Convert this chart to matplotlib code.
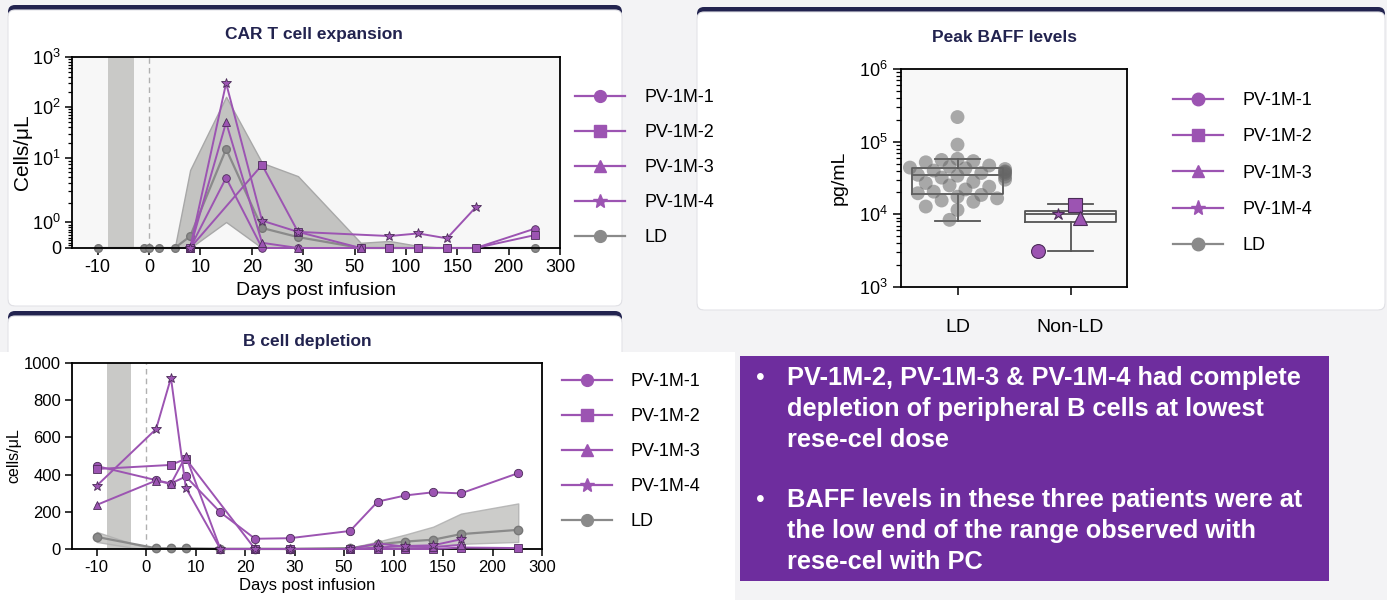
import numpy as np
import matplotlib.pyplot as plt
from matplotlib.patches import FancyBboxPatch, Rectangle
from matplotlib.lines import Line2D
from matplotlib.ticker import FixedLocator, NullFormatter

W, H = 1387, 600

plt.rcParams["font.family"] = ["Liberation Sans", "DejaVu Sans"]
plt.rcParams["mathtext.fontset"] = "custom"
plt.rcParams["mathtext.rm"] = "Liberation Sans"
plt.rcParams["mathtext.it"] = "Liberation Sans:italic"
plt.rcParams["axes.unicode_minus"] = False
plt.rcParams["xtick.direction"] = "out"
plt.rcParams["ytick.direction"] = "out"

NAVY = "#22234f"
PURPLE = "#9c54b2"
PEDGE = "#4b2c58"
GRAY = "#8a8a8a"
BOXPURPLE = "#6e2d9e"

# ---------------- data ----------------
patients = ["PV-1M-1", "PV-1M-2", "PV-1M-3", "PV-1M-4"]
x_tick_days = [-10, 0, 10, 20, 30, 50, 100, 150, 200, 300]

# CAR T cell expansion (cells/uL)
cart_days = {
    "PV-1M-1": [8, 15, 22, 29, 56, 84, 112, 140, 168, 252],
    "PV-1M-2": [8, 22, 29, 56, 84, 112, 140, 168, 252],
    "PV-1M-3": [8, 15, 22, 29, 56],
    "PV-1M-4": [8, 15, 22, 29, 84, 112, 140, 168],
}
cart_vals = {
    "PV-1M-1": [0, 4.9, 0, 0, 0, 0, 0, 0, 0, 0.75],
    "PV-1M-2": [0, 7.8, 0.62, 0, 0, 0, 0, 0, 0.5],
    "PV-1M-3": [0, 50, 0.2, 0, 0],
    "PV-1M-4": [0, 300, 1.05, 0.62, 0.46, 0.56, 0.37, 1.7],
}
cart_ld_days = [-10, -1, 0, 2, 5, 8, 15, 22, 29, 56, 84, 112, 140, 168, 252]
cart_ld_mean = [0, 0, 0, 0, 0, 0.45, 15, 0.77, 0.42, 0, 0, 0, 0, 0, 0]
cart_band_days = [5, 8, 15, 22, 29, 56, 84, 112, 140, 168, 252]
cart_band_hi = [0, 6.5, 160, 8.4, 5.2, 0.2, 0.27, 0.08, 0, 0, 0]
cart_band_lo = [0, 0, 1.0, 0, 0, 0, 0, 0, 0, 0, 0]

# B cell depletion (cells/uL)
bcell_days = {
    "PV-1M-1": [-10, 2, 5, 8, 15, 22, 29, 56, 84, 112, 140, 168, 252],
    "PV-1M-2": [-10, 5, 8, 22, 29, 56, 84, 112, 140, 168, 252],
    "PV-1M-3": [-10, 2, 5, 8, 15, 22, 29, 56, 84, 112, 140, 168],
    "PV-1M-4": [-10, 2, 5, 8, 15, 22, 29, 56, 84, 112, 140, 168],
}
bcell_vals = {
    "PV-1M-1": [446, 370, 352, 390, 197, 55, 58, 97, 255, 288, 305, 299, 408],
    "PV-1M-2": [430, 452, 485, 0, 0, 0, 0, 0, 0, 8, 5],
    "PV-1M-3": [237, 368, 350, 500, 0, 0, 0, 0, 30, 12, 10, 22],
    "PV-1M-4": [340, 645, 920, 330, 0, 0, 0, 0, 8, 16, 20, 52],
}
bcell_ld_days = [-10, 2, 5, 8, 15, 22, 29, 56, 84, 112, 140, 168, 252]
bcell_ld_mean = [65, 4, 3, 3, 0, 0, 0, 5, 25, 40, 50, 80, 103]
bcell_band_days = [-10, -3, 0, 56, 84, 112, 140, 168, 252]
bcell_band_hi = [92, 30, 8, 6, 40, 78, 120, 190, 245]
bcell_band_lo = [38, 8, 0, 0, 3, 10, 15, 28, 38]

# Peak BAFF (pg/mL)
baff_ld = [218000, 91000, 58000, 56000, 54000, 52000, 47000, 45000, 44000,
           43000, 42000, 40000, 39000, 38000, 37000, 36000, 35000, 34000,
           33000, 32000, 30000, 28000, 27000, 25000, 24000, 22000, 20500,
           19500, 18500, 17500, 16600, 15500, 14900, 12800, 11500, 8400]
baff_pv = [3100, 13500, 9000, 10200]
baff_ld_box = dict(q1=19000, med=34500, q3=44000, whislo=8100, whishi=57000)
baff_nonld_box = dict(q1=7900, med=10000, q3=11200, whislo=3100, whishi=13800)

bullets = [
    "PV-1M-2, PV-1M-3 & PV-1M-4 had complete\ndepletion of peripheral B cells at lowest\nrese-cel dose",
    "BAFF levels in these three patients were at\nthe low end of the range observed with\nrese-cel with PC",
]

markers = {"PV-1M-1": "o", "PV-1M-2": "s", "PV-1M-3": "^", "PV-1M-4": "*"}


# ---------------- helpers ----------------
def frac(x0, y0, x1, y1):
    return [x0 / W, 1 - y1 / H, (x1 - x0) / W, (y1 - y0) / H]


knot_days = [-20, -10, 0, 10, 20, 30, 50, 100, 150, 200, 300]
knot_pos = list(range(-1, 10))


def xfwd(x):
    return np.interp(x, knot_days, knot_pos)


def xinv(p):
    return np.interp(p, knot_pos, knot_days)


ylog_u = [0, 1, 2, 3, 4]
ylog_p = [0, 26, 90, 141, 191]


def yfwd(y):
    y = np.asarray(y, dtype=float)
    u = np.where(y <= 1, y, 1 + np.log10(np.maximum(y, 1)))
    return np.interp(u, ylog_u, ylog_p)


def yinv(p):
    u = np.interp(p, ylog_p, ylog_u)
    return np.where(u <= 1, u, 10 ** (u - 1))


def card(x0, y0, x1, y1):
    l, b, w, h = frac(x0, y0, x1, y1)
    fig.patches.append(FancyBboxPatch((l, b), w, h, boxstyle="round,pad=0,rounding_size=0.005",
                                      mutation_aspect=W / H, transform=fig.transFigure,
                                      facecolor=NAVY, edgecolor="none", zorder=-3))
    l, b, w, h = frac(x0, y0 + 5, x1, y1)
    fig.patches.append(FancyBboxPatch((l, b), w, h, boxstyle="round,pad=0,rounding_size=0.005",
                                      mutation_aspect=W / H, transform=fig.transFigure,
                                      facecolor="white", edgecolor="#e4e4e8", lw=0.8, zorder=-2))


def time_axis(ax, fs):
    ax.set_xscale("function", functions=(xfwd, xinv))
    ax.set_xlim(-15, 300)
    ax.set_xticks(x_tick_days)
    ax.set_xticklabels([str(d) for d in x_tick_days], fontsize=fs)
    ax.xaxis.set_minor_locator(FixedLocator([]))
    ax.axvspan(-8, -3, color="#c9c9c7", lw=0, zorder=0.5)
    ax.axvline(0, color="#b0b0b0", lw=1, ls=(0, (4, 3)), zorder=0.6)
    for s in ax.spines.values():
        s.set_linewidth(1.3)
    ax.tick_params(length=5, width=1.1, pad=3)


def legend_handles(ms):
    hs = [Line2D([], [], color=PURPLE, lw=1.6, marker=markers[p],
                 markersize=ms + (2 if markers[p] == "*" else 0), markerfacecolor=PURPLE,
                 markeredgecolor=PURPLE) for p in patients]
    hs.append(Line2D([], [], color=GRAY, lw=1.6, marker="o", markersize=ms,
                     markerfacecolor=GRAY, markeredgecolor=GRAY))
    return hs, patients + ["LD"]


fig = plt.figure(figsize=(W / 100, H / 100), dpi=100, facecolor="#f3f3f5")

card(8, 5, 622, 306)
card(697, 7, 1385, 310)
card(8, 311, 622, 640)
fig.patches.append(Rectangle((0, 0), 735 / W, 1 - 352 / H, transform=fig.transFigure,
                             facecolor="white", edgecolor="none", zorder=-1))

# ---------------- CAR T expansion ----------------
ax1 = fig.add_axes(frac(72, 57, 560, 248))
ax1.set_facecolor("#f7f7f7")
time_axis(ax1, 13)
ax1.set_yscale("function", functions=(yfwd, yinv))
ax1.set_ylim(0, 1000)
ax1.set_yticks([0, 1, 10, 100, 1000])
ax1.set_yticklabels(["0", "$10^0$", "$10^1$", "$10^2$", "$10^3$"], fontsize=13)
minor = [k / 10 for k in range(1, 10)] + [k * 10 ** d for d in range(3) for k in range(2, 10)]
ax1.yaxis.set_minor_locator(FixedLocator(minor))
ax1.yaxis.set_minor_formatter(NullFormatter())
ax1.tick_params(axis="y", which="minor", length=3, width=0.9)

ax1.fill_between(cart_band_days, cart_band_lo, cart_band_hi, color="#c3c3c1",
                 edgecolor="#a8a8a8", lw=1, zorder=1)
ax1.plot(cart_ld_days, cart_ld_mean, color=GRAY, lw=1.6, marker="o", markersize=5.5,
         markerfacecolor=GRAY, markeredgecolor="#777777", zorder=2, clip_on=False)
for p in patients:
    m = markers[p]
    ax1.plot(cart_days[p], cart_vals[p], color=PURPLE, lw=1.4, marker=m,
             markersize=7 if m == "*" else 5.5, markerfacecolor=PURPLE,
             markeredgecolor=PEDGE, markeredgewidth=0.6, zorder=3, clip_on=False)
ax1.set_ylabel("Cells/μL", fontsize=15, labelpad=0)
ax1.set_xlabel("Days post infusion", fontsize=14, labelpad=4)
fig.text(314 / W, 1 - 35 / H, "CAR T cell expansion", fontsize=12.5, fontweight="bold",
         color=NAVY, ha="center", va="center")

hs, labs = legend_handles(8.5)
fig.legend(hs, labs, loc="upper left", bbox_to_anchor=(575 / W, 1 - 89 / H), frameon=False,
           fontsize=13, handlelength=2.75, handletextpad=1.1, labelspacing=1.0,
           borderpad=0, borderaxespad=0)

# ---------------- B cell depletion ----------------
ax2 = fig.add_axes(frac(72, 363, 542, 549))
ax2.set_facecolor("white")
time_axis(ax2, 12)
ax2.set_ylim(0, 1000)
ax2.set_yticks(range(0, 1001, 200))
ax2.tick_params(axis="y", labelsize=12)
ax2.fill_between(bcell_band_days, bcell_band_lo, bcell_band_hi, color="#c3c3c1",
                 edgecolor="#b0b0b0", lw=1, alpha=0.85, zorder=1)
ax2.plot(bcell_ld_days, bcell_ld_mean, color=GRAY, lw=1.6, marker="o", markersize=6,
         markerfacecolor=GRAY, markeredgecolor="#777777", zorder=2, clip_on=False)
for p in patients:
    m = markers[p]
    ax2.plot(bcell_days[p], bcell_vals[p], color=PURPLE, lw=1.4, marker=m,
             markersize=7 if m == "*" else 6, markerfacecolor=PURPLE,
             markeredgecolor=PEDGE, markeredgewidth=0.6, zorder=3, clip_on=False)
ax2.set_ylabel("cells/μL", fontsize=11.5, labelpad=2)
ax2.set_xlabel("Days post infusion", fontsize=12, labelpad=2)
fig.text(307 / W, 1 - 342 / H, "B cell depletion", fontsize=12.5, fontweight="bold",
         color=NAVY, ha="center", va="center")

hs, labs = legend_handles(8.5)
fig.legend(hs, labs, loc="upper left", bbox_to_anchor=(562 / W, 1 - 373 / H), frameon=False,
           fontsize=13, handlelength=2.75, handletextpad=1.05, labelspacing=1.0,
           borderpad=0, borderaxespad=0)

# ---------------- Peak BAFF ----------------
ax3 = fig.add_axes(frac(901, 69, 1127, 287))
ax3.set_facecolor("#f8f8f8")
ax3.set_yscale("log")
ax3.set_ylim(1e3, 1e6)
ax3.set_xlim(-0.5, 1.5)
ax3.bxp([baff_ld_box, baff_nonld_box], positions=[0, 1], widths=[0.8, 0.8], showfliers=False,
        boxprops=dict(color="#555555", lw=1.3), medianprops=dict(color="#555555", lw=1.3),
        whiskerprops=dict(color="#555555", lw=1.3), capprops=dict(color="#555555", lw=1.3),
        capwidths=[0.4, 0.4], zorder=2)

# simple deterministic swarm for LD points (pixel space)
px_per_unit, px_per_dec = 114.0, 72.6
placed = []
xs = []
steps = [0] + [s * k for k in range(1, 7) for s in (-1, 1)]
for v in baff_ld:
    yp = np.log10(v) * px_per_dec
    for st in steps:
        xp = st * 8.0
        if all((xp - a) ** 2 + (yp - b) ** 2 >= 10.5 ** 2 for a, b in placed):
            break
    placed.append((xp, yp))
    xs.append(xp / px_per_unit)
ax3.scatter(xs, baff_ld, s=100, color="#666666", alpha=0.55, edgecolor="none", zorder=3)

pv_offsets = [-0.29, 0.04, 0.08, -0.11]
for p, v, dx in zip(patients, baff_pv, pv_offsets):
    m = markers[p]
    ax3.plot(1 + dx, v, marker=m, markersize=9 if m == "*" else 10, color=PURPLE,
             markeredgecolor=PEDGE, markeredgewidth=0.8, zorder=4, ls="none")
ax3.set_xticks([0, 1])
ax3.set_xticklabels(["LD", "Non-LD"], fontsize=14)
ax3.tick_params(axis="x", length=6, width=1.1, pad=17)
ax3.tick_params(axis="y", which="major", length=6, width=1.1, labelsize=13)
ax3.tick_params(axis="y", which="minor", length=3.5, width=0.9)
for s in ax3.spines.values():
    s.set_linewidth(1.3)
ax3.set_ylabel("pg/mL", fontsize=14, labelpad=8)
fig.text(1005 / W, 1 - 37 / H, "Peak BAFF levels", fontsize=12.5, fontweight="bold",
         color=NAVY, ha="center", va="center")

hs, labs = legend_handles(9)
fig.legend(hs, labs, loc="upper left", bbox_to_anchor=(1173 / W, 1 - 92 / H), frameon=False,
           fontsize=13, handlelength=2.75, handletextpad=1.1, labelspacing=1.07,
           borderpad=0, borderaxespad=0)

# ---------------- summary box ----------------
fig.patches.append(Rectangle((740 / W, 1 - 581 / H), 589 / W, 225 / H, transform=fig.transFigure,
                             facecolor=BOXPURPLE, edgecolor="none", zorder=1))
for txt, ytop in zip(bullets, [366, 488]):
    fig.text(756 / W, 1 - ytop / H, "•", fontsize=18, color="white", va="top", ha="left")
    fig.text(787 / W, 1 - ytop / H, txt, fontsize=18.3, fontweight="bold", color="white",
             va="top", ha="left", linespacing=1.37)

fig.savefig("out.png", dpi=100, facecolor=fig.get_facecolor())
